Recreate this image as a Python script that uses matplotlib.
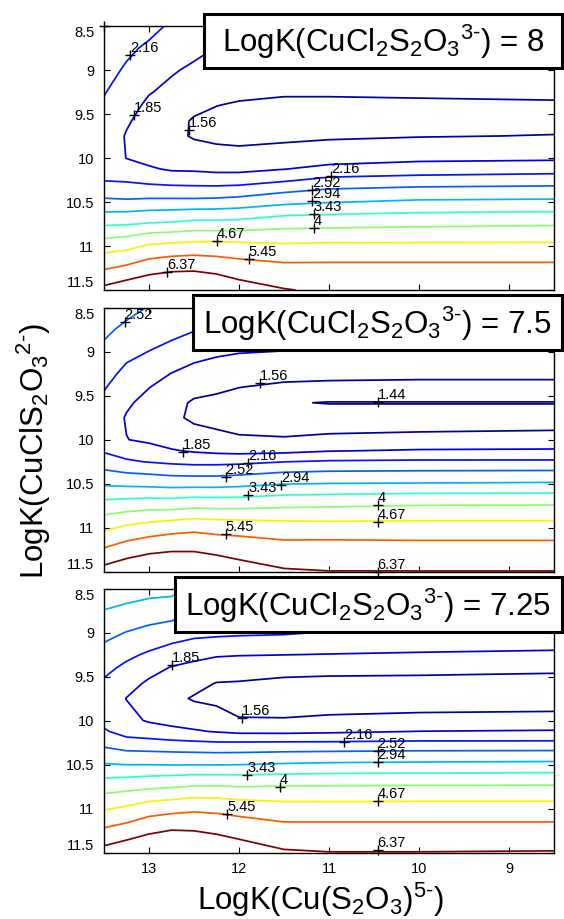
import numpy as np
import matplotlib
matplotlib.use("Agg")
import matplotlib.pyplot as plt
from matplotlib.patches import Rectangle
from matplotlib.colors import Normalize

plt.rcParams['font.family'] = ['Liberation Sans', 'DejaVu Sans']
plt.rcParams['mathtext.fontset'] = 'custom'
plt.rcParams['mathtext.rm'] = 'Liberation Sans'
plt.rcParams['mathtext.it'] = 'Liberation Sans:italic'
plt.rcParams['mathtext.bf'] = 'Liberation Sans:bold'

# ---------------- data ----------------
levels = [1.44, 1.56, 1.85, 2.16, 2.52, 2.94, 3.43, 4.0, 4.67, 5.45, 6.37]

# LogK(Cu(S2O3)5-) grid (x) and LogK(CuClS2O3 2-) grid (y)
x_grid = [13.5, 13.25, 13.0, 12.75, 12.5, 12.25, 12.0, 11.5, 11.0, 10.0, 8.5]
y_grid = [8.5, 8.75, 9.0, 9.25, 9.4, 9.58, 9.75, 10.0, 10.125, 10.25, 10.5,
          10.75, 11.0, 11.25, 11.5]

# panel LogK(CuCl2S2O3 3-) = 8
z_k8 = [
    [2.462, 2.315, 2.262, 2.111, 2.030, 1.968, 1.968, 1.968, 1.968, 1.968, 1.968],
    [2.369, 2.228, 2.104, 1.984, 1.923, 1.843, 1.843, 1.843, 1.843, 1.843, 1.843],
    [2.280, 2.117, 1.984, 1.879, 1.803, 1.743, 1.728, 1.713, 1.713, 1.713, 1.713],
    [2.177, 2.018, 1.867, 1.782, 1.699, 1.642, 1.614, 1.587, 1.587, 1.592, 1.600],
    [2.127, 1.959, 1.794, 1.728, 1.633, 1.565, 1.535, 1.511, 1.511, 1.523, 1.535],
    [2.069, 1.885, 1.728, 1.664, 1.530, 1.494, 1.487, 1.475, 1.487, 1.487, 1.487],
    [2.037, 1.828, 1.699, 1.628, 1.535, 1.499, 1.492, 1.499, 1.523, 1.548, 1.568],
    [2.056, 1.843, 1.773, 1.699, 1.699, 1.664, 1.642, 1.699, 1.743, 1.788, 1.803],
    [2.094, 1.984, 1.882, 1.819, 1.813, 1.788, 1.782, 1.843, 1.923, 1.984, 2.030],
    [2.144, 2.120, 2.056, 2.014, 1.999, 1.984, 1.999, 2.111, 2.245, 2.297, 2.333],
    [2.599, 2.579, 2.611, 2.619, 2.619, 2.639, 2.680, 2.829, 2.918, 3.009, 3.032],
    [3.362, 3.394, 3.473, 3.510, 3.592, 3.592, 3.620, 3.790, 3.820, 3.879, 3.939],
    [4.342, 4.458, 4.757, 4.854, 4.929, 4.929, 4.891, 4.779, 4.817, 4.817, 4.817],
    [5.367, 5.605, 5.939, 6.127, 6.175, 6.031, 5.846, 5.667, 5.667, 5.667, 5.667],
    [6.624, 6.994, 7.331, 7.562, 7.562, 7.274, 6.834, 6.420, 6.223, 6.127, 6.127],
]

# panel LogK(CuCl2S2O3 3-) = 7.5
z_k75 = [
    [2.764, 2.639, 2.500, 2.369, 2.333, 2.262, 2.228, 2.228, 2.228, 2.228, 2.228],
    [2.599, 2.432, 2.333, 2.262, 2.177, 2.078, 2.046, 2.030, 2.030, 2.030, 2.030],
    [2.432, 2.245, 2.154, 2.053, 1.947, 1.893, 1.864, 1.843, 1.843, 1.840, 1.840],
    [2.273, 2.078, 1.962, 1.843, 1.758, 1.716, 1.676, 1.625, 1.614, 1.600, 1.600],
    [2.184, 1.996, 1.859, 1.743, 1.662, 1.609, 1.565, 1.523, 1.511, 1.511, 1.511],
    [2.094, 1.893, 1.758, 1.656, 1.523, 1.499, 1.464, 1.447, 1.436, 1.436, 1.436],
    [2.037, 1.828, 1.705, 1.620, 1.511, 1.475, 1.468, 1.475, 1.487, 1.487, 1.487],
    [2.056, 1.856, 1.803, 1.728, 1.684, 1.636, 1.587, 1.573, 1.587, 1.600, 1.614],
    [2.127, 2.030, 1.953, 1.873, 1.819, 1.782, 1.758, 1.773, 1.834, 1.879, 1.893],
    [2.315, 2.200, 2.144, 2.094, 2.062, 2.062, 2.078, 2.154, 2.193, 2.211, 2.211],
    [2.873, 2.833, 2.807, 2.764, 2.764, 2.764, 2.807, 2.918, 2.949, 2.963, 2.986],
    [3.637, 3.704, 3.761, 3.761, 3.849, 3.820, 3.820, 3.909, 3.939, 4.019, 4.031],
    [4.513, 4.794, 4.968, 5.124, 5.243, 5.163, 5.124, 5.006, 4.968, 4.968, 4.968],
    [5.536, 5.874, 6.136, 6.272, 6.272, 6.079, 5.985, 5.801, 5.846, 5.801, 5.801],
    [6.727, 7.104, 7.385, 7.445, 7.445, 7.274, 6.834, 6.470, 6.390, 6.390, 6.390],
]

# panel LogK(CuCl2S2O3 3-) = 7.25
z_k725 = [
    [3.250, 3.176, 3.103, 3.079, 2.895, 2.851, 2.851, 2.851, 2.851, 2.851, 2.851],
    [2.931, 2.829, 2.743, 2.693, 2.559, 2.500, 2.500, 2.500, 2.481, 2.462, 2.443],
    [2.635, 2.508, 2.406, 2.326, 2.245, 2.228, 2.211, 2.193, 2.144, 2.127, 2.111],
    [2.380, 2.231, 2.114, 1.996, 1.932, 1.879, 1.864, 1.856, 1.843, 1.819, 1.788],
    [2.245, 2.094, 1.953, 1.834, 1.773, 1.716, 1.713, 1.656, 1.642, 1.628, 1.600],
    [2.111, 1.953, 1.803, 1.699, 1.642, 1.548, 1.535, 1.499, 1.487, 1.487, 1.487],
    [2.037, 1.843, 1.713, 1.633, 1.535, 1.499, 1.487, 1.468, 1.468, 1.464, 1.464],
    [2.078, 1.938, 1.819, 1.758, 1.728, 1.679, 1.573, 1.573, 1.592, 1.614, 1.628],
    [2.197, 2.046, 2.008, 1.938, 1.879, 1.834, 1.788, 1.782, 1.803, 1.856, 1.879],
    [2.398, 2.273, 2.245, 2.221, 2.200, 2.177, 2.177, 2.184, 2.187, 2.211, 2.211],
    [2.967, 2.931, 2.931, 2.918, 2.918, 2.918, 2.931, 2.977, 3.009, 3.032, 3.056],
    [3.721, 3.790, 3.873, 3.939, 4.031, 4.031, 3.988, 4.019, 4.031, 4.050, 4.062],
    [4.598, 4.779, 5.045, 5.163, 5.284, 5.243, 5.124, 4.968, 4.968, 4.968, 4.968],
    [5.571, 5.801, 6.165, 6.390, 6.351, 6.175, 6.031, 5.756, 5.756, 5.756, 5.756],
    [6.727, 7.104, 7.445, 7.562, 7.562, 7.331, 6.887, 6.470, 6.390, 6.390, 6.420],
]

# contour label positions (MATLAB-style "+" labels)
lbl8_x = [13.5, 13.21, 13.17, 12.56, 10.98, 11.19, 11.19, 11.17, 11.17, 12.25, 11.89, 12.80]
lbl8_y = [8.5, 8.83, 9.51, 9.68, 10.20, 10.365, 10.49, 10.64, 10.79, 10.94, 11.15, 11.29]
lbl8_t = ['', '2.16', '1.85', '1.56', '2.16', '2.52', '2.94', '3.43', '4', '4.67', '5.45', '6.37']

lbl75_x = [13.27, 11.77, 10.46, 12.62, 11.90, 12.15, 11.53, 11.90, 10.46, 10.46, 12.15, 10.46]
lbl75_y = [8.66, 9.35, 9.575, 10.14, 10.27, 10.42, 10.51, 10.63, 10.74, 10.93, 11.075, 11.5]
lbl75_t = ['2.52', '1.56', '1.44', '1.85', '2.16', '2.52', '2.94', '3.43', '4', '4.67', '5.45', '6.37']

lbl725_x = [12.75, 11.97, 10.83, 10.46, 10.46, 11.91, 11.55, 10.46, 12.13, 10.46]
lbl725_y = [9.37, 9.97, 10.24, 10.35, 10.47, 10.62, 10.75, 10.91, 11.06, 11.47]
lbl725_t = ['1.85', '1.56', '2.16', '2.52', '2.94', '3.43', '4', '4.67', '5.45', '6.37']

panel_k = ['8', '7.5', '7.25']
x_ticks = [13, 12, 11, 10, 9]
y_ticks = [8.5, 9, 9.5, 10, 10.5, 11, 11.5]
y_ticklabels = ['8.5', '9', '9.5', '10', '10.5', '11', '11.5']
x_ticklabels = ['13', '12', '11', '10', '9']

# ---------------- layout ----------------
W, H = 564, 919
fig = plt.figure(figsize=(W / 100, H / 100), dpi=100)

def fx(px):
    return px / W

def fy(py):
    return 1 - py / H

ax_left, ax_right = 104, 554
panel_tops = [26, 307.7, 588.5]
panel_h = 264
boxes = [(204, 14, 562, 68), (193, 295, 562, 350), (175, 577, 562, 632)]

norm = Normalize(vmin=1.44, vmax=6.37)
zsets = [z_k8, z_k75, z_k725]
lbls = [(lbl8_x, lbl8_y, lbl8_t), (lbl75_x, lbl75_y, lbl75_t),
        (lbl725_x, lbl725_y, lbl725_t)]

xg = np.array(x_grid)
yg = np.array(y_grid)
HY = '\u2010'  # short hyphen for charges

for i in range(3):
    top = panel_tops[i]
    ax = fig.add_axes([fx(ax_left), fy(top + panel_h), fx(ax_right - ax_left), panel_h / H])
    Z = np.array(zsets[i])
    ax.contour(xg[::-1], yg, Z[:, ::-1], levels=levels, cmap='jet', norm=norm,
               linewidths=1.25)
    lx, ly, lt = lbls[i]
    ax.plot(lx, ly, '+', color='black', markersize=7.5, mew=1.0, clip_on=False, zorder=5)
    for x, y, t in zip(lx, ly, lt):
        if t:
            ax.text(x, y, t, fontsize=10.5, ha='left', va='bottom', color='black',
                    zorder=6, clip_on=False)
    ax.set_xlim(13.5, 8.5)
    ax.set_ylim(11.5, 8.5)
    ax.set_xticks(x_ticks)
    ax.set_yticks(y_ticks)
    ax.set_yticklabels(y_ticklabels)
    if i == 2:
        ax.set_xticklabels(x_ticklabels)
    else:
        ax.set_xticklabels([])
    ax.tick_params(direction='in', length=4, width=0.8, top=True, right=True,
                   labelsize=10.5, pad=7, colors='black')
    yt = ax.yaxis.get_major_ticks()
    yt[0].label1.set_va('top')
    yt[-1].label1.set_va('bottom')
    for s in ax.spines.values():
        s.set_linewidth(1.0)

    bx0, by0, bx1, by1 = boxes[i]
    rect = Rectangle((fx(bx0), fy(by1)), fx(bx1 - bx0), (by1 - by0) / H,
                     transform=fig.transFigure, facecolor='white', edgecolor='black',
                     linewidth=2.2, zorder=10)
    fig.add_artist(rect)
    fig.text(fx((bx0 + bx1) / 2), fy((by0 + by1) / 2 + 1),
             r'LogK(CuCl$_{\rm 2}$S$_{\rm 2}$O$_{\rm 3}$$^{\rm 3' + HY + r'}$) = ' + panel_k[i],
             fontsize=22.5, ha='center', va='center', zorder=11)

fig.text(fx(34), fy(451.5), r'LogK(CuClS$_{\rm 2}$O$_{\rm 3}$$^{\rm 2' + HY + r'}$)',
         rotation=90, fontsize=22.5, ha='center', va='center')
fig.text(fx(321), fy(910), r'LogK(Cu(S$_{\rm 2}$O$_{\rm 3}$)$^{\rm 5' + HY + r'}$)',
         fontsize=22.5, ha='center', va='baseline')

fig.savefig('out.png', dpi=100)
